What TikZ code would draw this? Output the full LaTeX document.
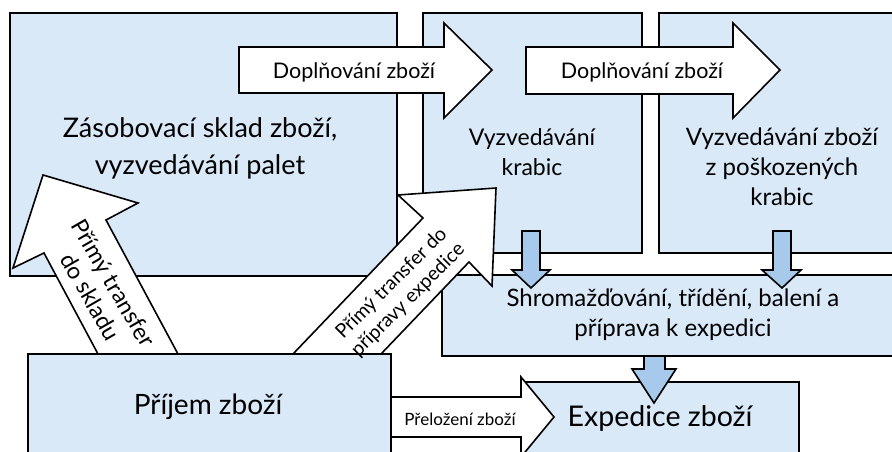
\documentclass[tikz,border=0pt]{standalone}
\usepackage{fontspec}
\setmainfont{Lato}
\definecolor{boxblue}{HTML}{DAE9F8}
\definecolor{arrblue}{HTML}{A6C9EC}
\begin{document}
\begin{tikzpicture}[x=1pt,y=-1pt,
  box/.style={draw=black,fill=boxblue,line width=1.6pt},
  warrow/.style={draw=black,fill=white,line width=1.6pt,line join=miter},
  barrow/.style={draw=black,fill=arrblue,line width=1.6pt,line join=miter},
  lbl/.style={align=center,inner sep=0pt,text=black}]
\useasboundingbox (0,0) rectangle (892,452);
\clip (0,0) rectangle (892,452);
% boxes
\draw[box] (10,13) rectangle (397,276);
\draw[box] (423,13) rectangle (642,253);
\draw[box] (659,13) rectangle (900,253);
\draw[box] (442,275) rectangle (900,356);
\draw[box] (28,354) rectangle (391,470);
\draw[box] (523,382) rectangle (799,470);
% box labels
\node[lbl,font=\fontsize{27}{37}\selectfont] (sklad) at (200,148) {Zásobovací sklad zboží,\\vyzvedávání palet};
\node[lbl,font=\fontsize{23}{30}\selectfont] (krabic) at (532,152) {Vyzvedávání\\krabic};
\node[lbl,font=\fontsize{24}{30}\selectfont] (poskoz) at (782,167) {Vyzvedávání zboží\\z poškozených\\krabic};
\node[lbl,font=\fontsize{24}{30}\selectfont] (shrom) at (673,315) {Shromažďování, třídění, balení a\\příprava k expedici};
\node[lbl,font=\fontsize{28}{30}\selectfont] (prijem) at (208,407) {Příjem zboží};
\node[lbl,font=\fontsize{28.5}{30}\selectfont] (exped) at (660,418) {Expedice zboží};
% top white arrows
\draw[warrow] (239,47) -- (444,47) -- (444,23) -- (492,70) -- (444,118) -- (444,93) -- (239,93) -- cycle;
\node[lbl,font=\fontsize{21.5}{24}\selectfont] (dopl1) at (354,72) {Doplňování zboží};
\draw[warrow] (526,47) -- (733,47) -- (733,23) -- (780,70) -- (733,118) -- (733,94) -- (526,94) -- cycle;
\node[lbl,font=\fontsize{21.5}{24}\selectfont] (dopl2) at (642,72) {Doplňování zboží};
% left diagonal arrow
\draw[warrow] (98,354) -- (44,253) -- (13,268) -- (43,175) -- (138,203) -- (106,220) -- (178,354) -- cycle;
\node[lbl,font=\fontsize{23}{27}\selectfont,rotate=-60] (trsklad) at (102,290) {Přímý transfer\\do skladu};
% right diagonal arrow (clipped head)
\draw[warrow] (293,354) -- (423,218) -- (398,195) -- (496,188) -- (492,286) -- (469,262) -- (381,354) -- cycle;
\node[lbl,font=\fontsize{19.5}{23.5}\selectfont,rotate=45] (trexp) at (400,292) {Přímý transfer do\\přípravy expedice};
% transfer arrow
\draw[warrow] (391,397) -- (521,397) -- (521,377) -- (554,417) -- (521,457) -- (521,437) -- (391,437) -- cycle;
\node[lbl,font=\fontsize{17}{20}\selectfont] (prelo) at (460,419) {Přeložení zboží};
% small blue arrows
\draw[barrow] (522,231) -- (540,231) -- (540,270) -- (550,270) -- (531,288) -- (512,270) -- (522,270) -- cycle;
\draw[barrow] (773,231) -- (791,231) -- (791,270) -- (801,270) -- (782,288) -- (762,270) -- (773,270) -- cycle;
\draw[barrow] (644,356) -- (665,356) -- (665,369) -- (676,369) -- (654,403) -- (632,369) -- (644,369) -- cycle;
\end{tikzpicture}
\end{document}
